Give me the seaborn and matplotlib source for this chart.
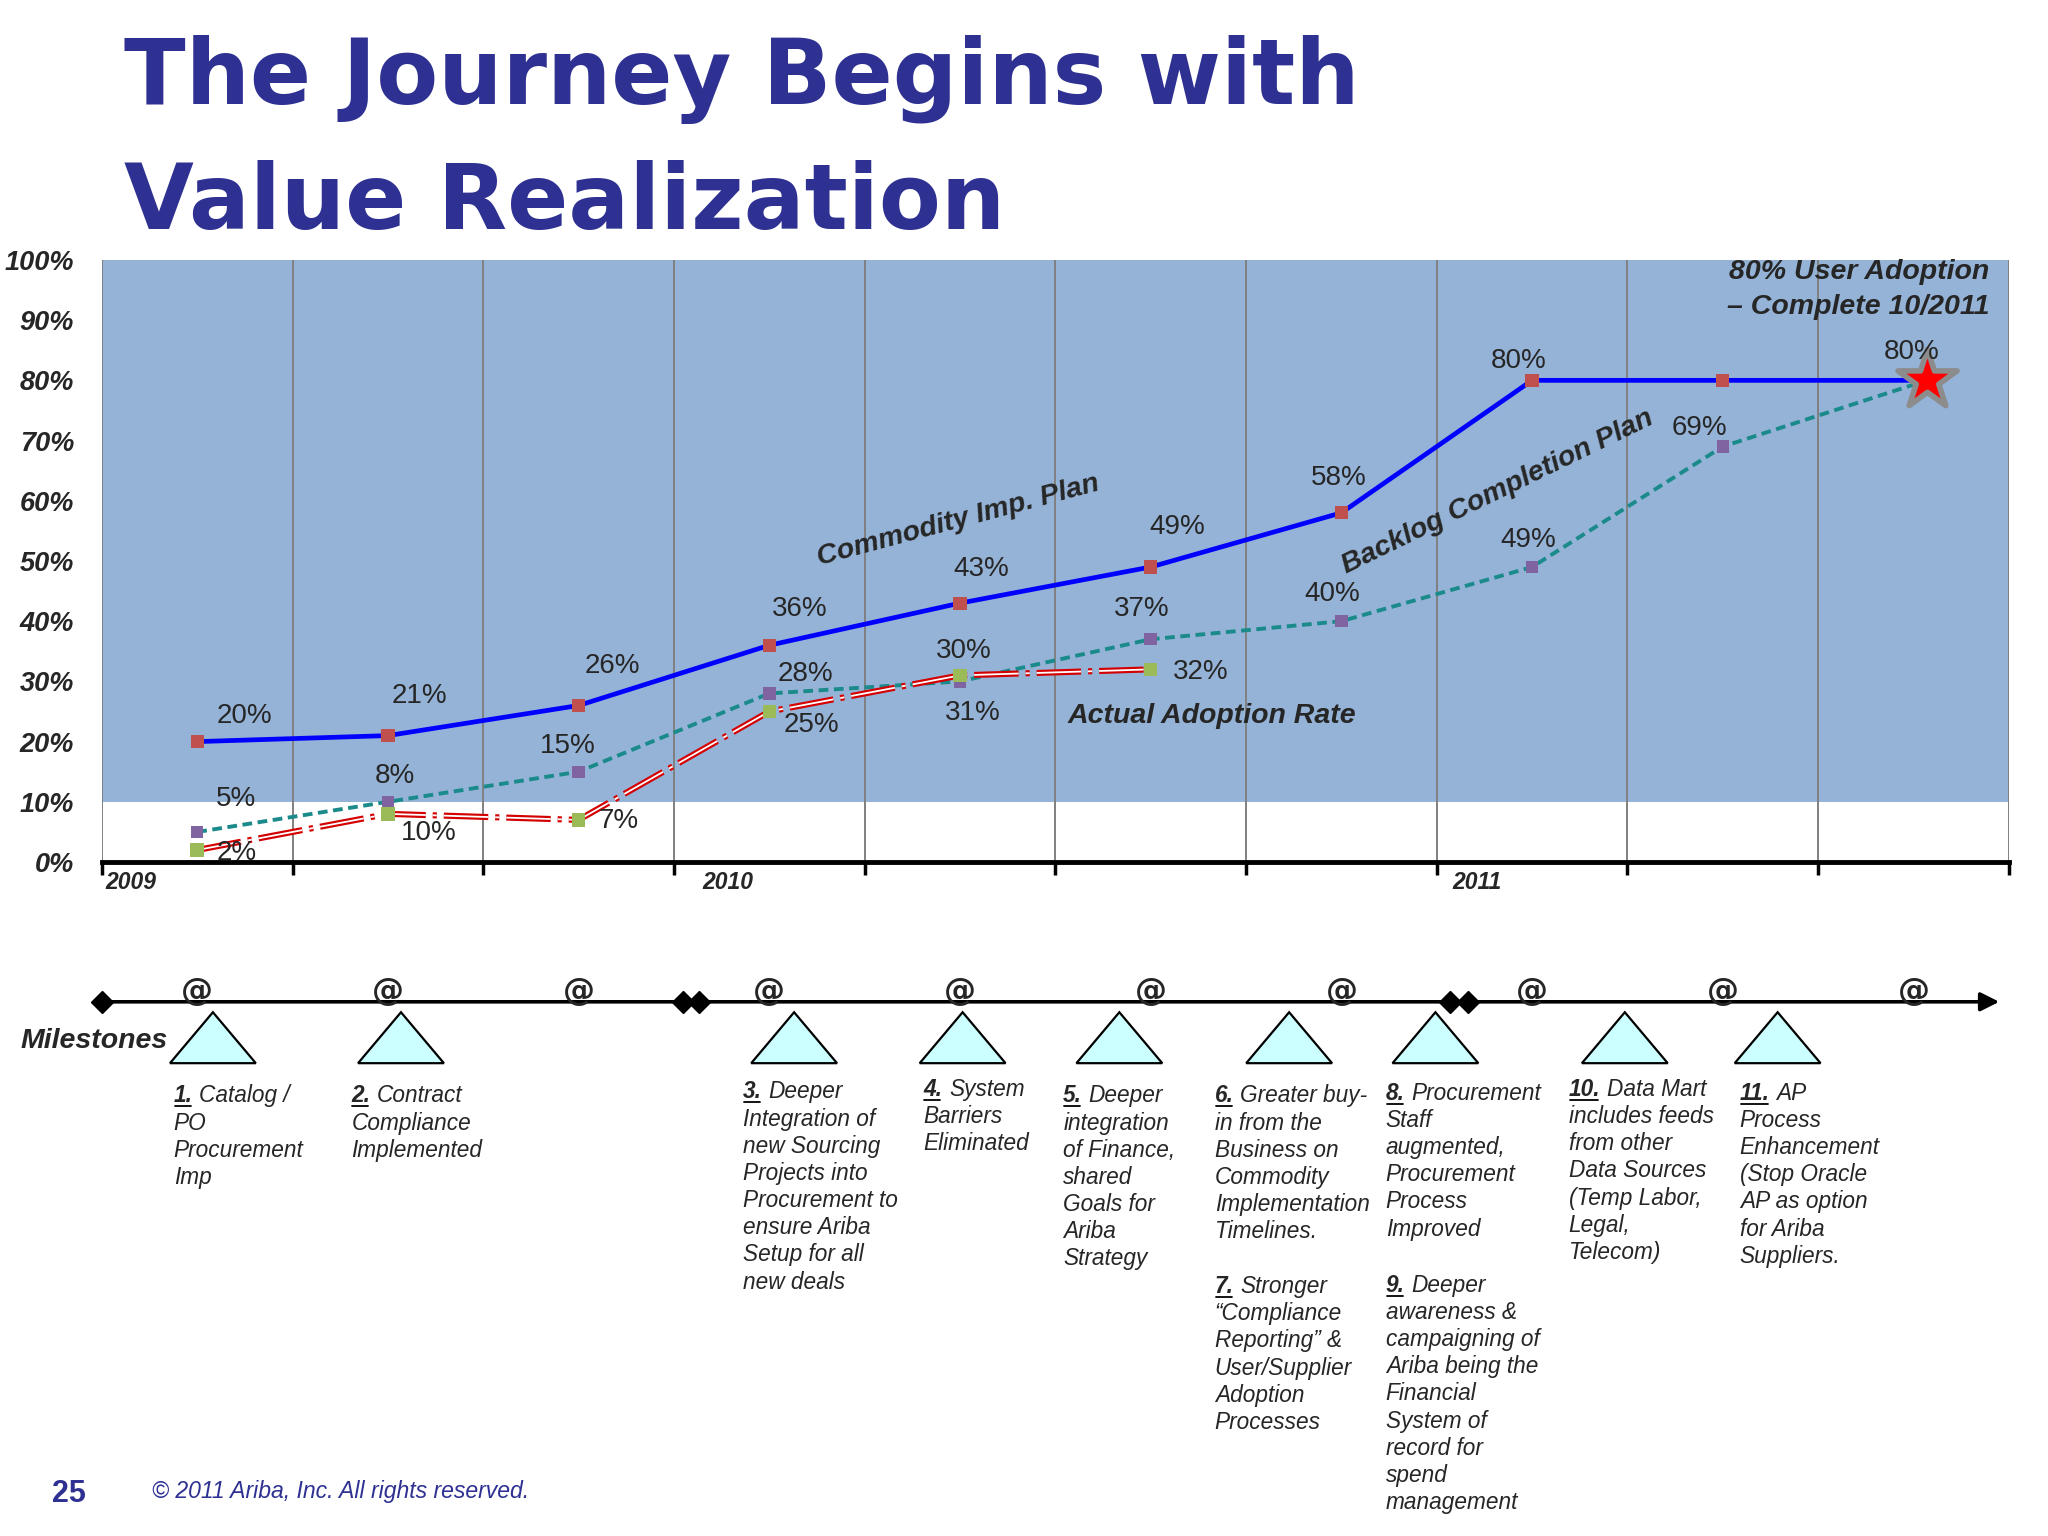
import pandas as pd
import matplotlib
matplotlib.use('Agg')
import matplotlib.pyplot as plt
import matplotlib.transforms as mtrans
from matplotlib.patches import Polygon
import seaborn as sns

# Plan / actual adoption values (percent), one point per period
periods = [0.5, 1.5, 2.5, 3.5, 4.5, 5.5, 6.5, 7.5, 8.5, 9.57]
commodity_plan = [20, 21, 26, 36, 43, 49, 58, 80, 80, 80]
commodity_labels = ['20%', '21%', '26%', '36%', '43%', '49%', '58%', '80%', '', '80%']
backlog_plan = [5, 10, 15, 28, 30, 37, 40, 49, 69, 80]
backlog_labels = ['5%', '8%', '15%', '28%', '30%', '37%', '40%', '49%', '69%', '']
actual_periods = [0.5, 1.5, 2.5, 3.5, 4.5, 5.5]
actual_rate = [2, 8, 7, 25, 31, 32]
actual_labels = ['2%', '10%', '7%', '25%', '31%', '32%']

years = ['2009', '2010', '2011']
year_pos = [0.02, 3.15, 7.08]

# Milestones along the timeline
milestone_nums = ['1.', '2.', '3.', '4.', '5.', '6.', '7.', '8.', '9.', '10.', '11.']
milestone_text = [
    ['Catalog /', 'PO', 'Procurement', 'Imp'],
    ['Contract', 'Compliance', 'Implemented'],
    ['Deeper', 'Integration of', 'new Sourcing', 'Projects into', 'Procurement to',
     'ensure Ariba', 'Setup for all', 'new deals'],
    ['System', 'Barriers', 'Eliminated'],
    ['Deeper', 'integration', 'of Finance,', 'shared', 'Goals for', 'Ariba', 'Strategy'],
    ['Greater buy-', 'in from the', 'Business on', 'Commodity', 'Implementation', 'Timelines.'],
    ['Stronger', '\u201cCompliance', 'Reporting\u201d &', 'User/Supplier', 'Adoption', 'Processes'],
    ['Procurement', 'Staff', 'augmented,', 'Procurement', 'Process', 'Improved'],
    ['Deeper', 'awareness &', 'campaigning of', 'Ariba being the', 'Financial',
     'System of', 'record for', 'spend', 'management'],
    ['Data Mart', 'includes feeds', 'from other', 'Data Sources', '(Temp Labor,',
     'Legal,', 'Telecom)'],
    ['AP', 'Process', 'Enhancement', '(Stop Oracle', 'AP as option', 'for Ariba',
     'Suppliers.'],
]

# layout (reference pixel grid of the 1568x1176 view)
X0, XW = 78, 146
def px_x(x):
    return (x - X0) / XW

ms_x = [px_x(v) for v in [133, 269, 569, 707, 814, 930, 930, 1061, 1061, 1201, 1332]]
ms_base = [844, 844, 841, 839, 844, 844, 990, 842, 989, 839, 842]
tri_x = [px_x(v) for v in [163, 307, 608, 737, 857, 987, 1099, 1244, 1361]]
diamond_x = [px_x(v) for v in [78, 523, 535, 1110, 1124]]

c_off = [(36, 20), (24, 30), (26, 30), (23, 28), (16, 26), (20, 31), (-2, 27), (-10, 15), (0, 0), (-12, 22)]
b_off = [(30, 25), (5, 20), (-8, 20), (28, 15), (3, 23), (-7, 23), (-7, 21), (-3, 21), (-18, 14), (0, 0)]
a_off = [(30, -2), (31, -15), (31, -1), (32, -10), (10, -29), (38, -2)]

navy = '#2E3192'
band = '#95B3D7'

sns.set_style('white')
plt.rcParams['font.family'] = ['Liberation Sans', 'DejaVu Sans']
plt.rcParams['lines.scale_dashes'] = False

fig = plt.figure(figsize=(20.48, 15.36), dpi=100)
ax = fig.add_axes([78 / 1568, 1 - 660 / 1176, 1460 / 1568, 461 / 1176])

ax.axhspan(10, 100, color=band, zorder=0.2, lw=0)
ax.set_xlim(0, 10)
ax.set_ylim(0, 100)
ax.set_axisbelow(True)
ax.set_xticks(range(11))
ax.set_xticklabels([])
ax.grid(axis='x', color='#808080', lw=1.4)
ax.grid(axis='y', visible=False)
ax.tick_params(axis='x', direction='out', length=9, width=2.5, color='black', bottom=True)
ax.set_yticks(range(0, 101, 10))
ax.set_yticklabels([f'{v}%' for v in range(0, 101, 10)], fontsize=19.5,
                   fontweight='bold', fontstyle='italic')
ax.tick_params(axis='y', length=0, pad=20)
for s in ['left', 'top', 'right']:
    ax.spines[s].set_visible(False)
ax.spines['bottom'].set_color('black')
ax.spines['bottom'].set_linewidth(3.5)

df_c = pd.DataFrame({'period': periods, 'pct': commodity_plan})
df_b = pd.DataFrame({'period': periods, 'pct': backlog_plan})
df_a = pd.DataFrame({'period': actual_periods, 'pct': actual_rate})

sns.lineplot(data=df_c, x='period', y='pct', color='#0000FF', lw=3.4, ax=ax, zorder=3)
sns.scatterplot(data=df_c.iloc[:-1], x='period', y='pct', marker='s', s=90,
                color='#C0504D', edgecolor='none', ax=ax, zorder=5)

sns.lineplot(data=df_b, x='period', y='pct', color='#1A8A8A', lw=2.8,
             linestyle=(0, (7, 4)), ax=ax, zorder=3)
sns.scatterplot(data=df_b.iloc[:-1], x='period', y='pct', marker='s', s=80,
                color='#8064A2', edgecolor='none', ax=ax, zorder=5)

sns.lineplot(data=df_a, x='period', y='pct', color='#D40000', lw=4.4,
             linestyle=(0, (32, 5, 3, 5)), ax=ax, zorder=3.5)
sns.lineplot(data=df_a, x='period', y='pct', color='white', lw=1.3,
             linestyle=(0, (32, 5, 3, 5)), ax=ax, zorder=3.6)
sns.scatterplot(data=df_a, x='period', y='pct', marker='s', s=95,
                color='#9BBB59', edgecolor='none', ax=ax, zorder=5)

sns.scatterplot(x=[periods[-1]], y=[commodity_plan[-1]], marker='*', s=2000,
                color='#FF0000', edgecolor='#8C8C8C', linewidth=4, ax=ax, zorder=6)
ax.set_xlabel('')
ax.set_ylabel('')

def add_labels(xs, ys, labels, offs):
    for x, y, t, (dx, dy) in zip(xs, ys, labels, offs):
        if t:
            ax.annotate(t, (x, y), xytext=(dx * 0.94, dy * 0.94), textcoords='offset points',
                        ha='center', va='center', fontsize=20, zorder=7)

add_labels(periods, commodity_plan, commodity_labels, c_off)
add_labels(periods, backlog_plan, backlog_labels, b_off)
add_labels(actual_periods, actual_rate, actual_labels, a_off)

lab = dict(fontsize=20.5, fontweight='bold', fontstyle='italic', ha='center', va='center',
           rotation_mode='anchor', zorder=7)
ax.text(4.49, 56.6, 'Commodity Imp. Plan', rotation=15, **lab)
ax.text(7.32, 61.5, 'Backlog Completion Plan', rotation=26, **lab)
ax.text(5.82, 24.3, 'Actual Adoption Rate', **lab)
ax.text(9.90, 98.0, '80% User Adoption', fontsize=20.5, fontweight='bold',
        fontstyle='italic', ha='right', va='center', zorder=7)
ax.text(9.90, 92.2, '\u2013 Complete 10/2011', fontsize=20.5, fontweight='bold',
        fontstyle='italic', ha='right', va='center', zorder=7)

trans = mtrans.blended_transform_factory(ax.transData, ax.transAxes)
for yl, xp in zip(years, year_pos):
    ax.text(xp, -0.034, yl, transform=trans, ha='left', va='center', fontsize=16.5,
            fontweight='bold', fontstyle='italic')

# Timeline / milestones panel, y in reference pixel units
tl = fig.add_axes([78 / 1568, 0, 1460 / 1568, 1])
tl.set_xlim(0, 10)
tl.set_ylim(1176, 0)
tl.axis('off')
tl.patch.set_visible(False)

tl.annotate('', xy=(9.95, 767), xytext=(0, 767),
            arrowprops=dict(arrowstyle='-|>', color='black', lw=2.6,
                            mutation_scale=28, shrinkA=0, shrinkB=0))
tl.plot(diamond_x, [767] * len(diamond_x), 'D', color='black', markersize=11, ls='none',
        clip_on=False)
for xi in periods[:-1] + [9.5]:
    tl.text(xi, 766, '@', ha='center', va='baseline', fontsize=23, fontweight='bold',
            family='DejaVu Sans')
for cx in tri_x:
    tl.add_patch(Polygon([(cx - 0.225, 814), (cx + 0.225, 814), (cx, 775)],
                         closed=True, facecolor='#CCFFFF', edgecolor='black', lw=1.6))
tl.text(px_x(16), 797, 'Milestones', ha='left', va='center', fontsize=20.5,
        fontweight='bold', fontstyle='italic', clip_on=False)

fs = 16.3
num_texts = []
for x, b, n in zip(ms_x, ms_base, milestone_nums):
    num_texts.append(tl.text(x, b, n, ha='left', va='baseline', fontsize=fs,
                             fontweight='bold', fontstyle='italic'))
fig.canvas.draw()
renderer = fig.canvas.get_renderer()
inv = tl.transData.inverted()
for t, x, b, lines in zip(num_texts, ms_x, ms_base, milestone_text):
    bb = t.get_window_extent(renderer)
    x0 = inv.transform((bb.x0, bb.y0))[0]
    x1 = inv.transform((bb.x1, bb.y0))[0]
    tl.plot([x0 + 0.005, x1 - 0.01], [b + 3, b + 3], color='black', lw=1.3)
    tl.text(x1 + 0.035, b, lines[0], ha='left', va='baseline', fontsize=fs,
            fontstyle='italic')
    for i, line in enumerate(lines[1:], start=1):
        tl.text(x, b + 20.8 * i, line, ha='left', va='baseline', fontsize=fs,
                fontstyle='italic')

# Title and footer
fig.text(124 / 2048, 1 - 104 / 1536, 'The Journey Begins with', fontsize=65,
         fontweight='bold', family='DejaVu Sans', color=navy, va='baseline')
fig.text(124 / 2048, 1 - 229 / 1536, 'Value Realization', fontsize=65,
         fontweight='bold', family='DejaVu Sans', color=navy, va='baseline')
fig.text(53 / 1568, 1 - 1150 / 1176, '25', ha='center', va='baseline', fontsize=22,
         fontweight='bold', color=navy)
fig.text(116 / 1568, 1 - 1147 / 1176, '\u00a9 2011 Ariba, Inc. All rights reserved.',
         ha='left', va='baseline', fontsize=16.6, fontstyle='italic', color=navy)

fig.savefig('out.png', dpi=100)
